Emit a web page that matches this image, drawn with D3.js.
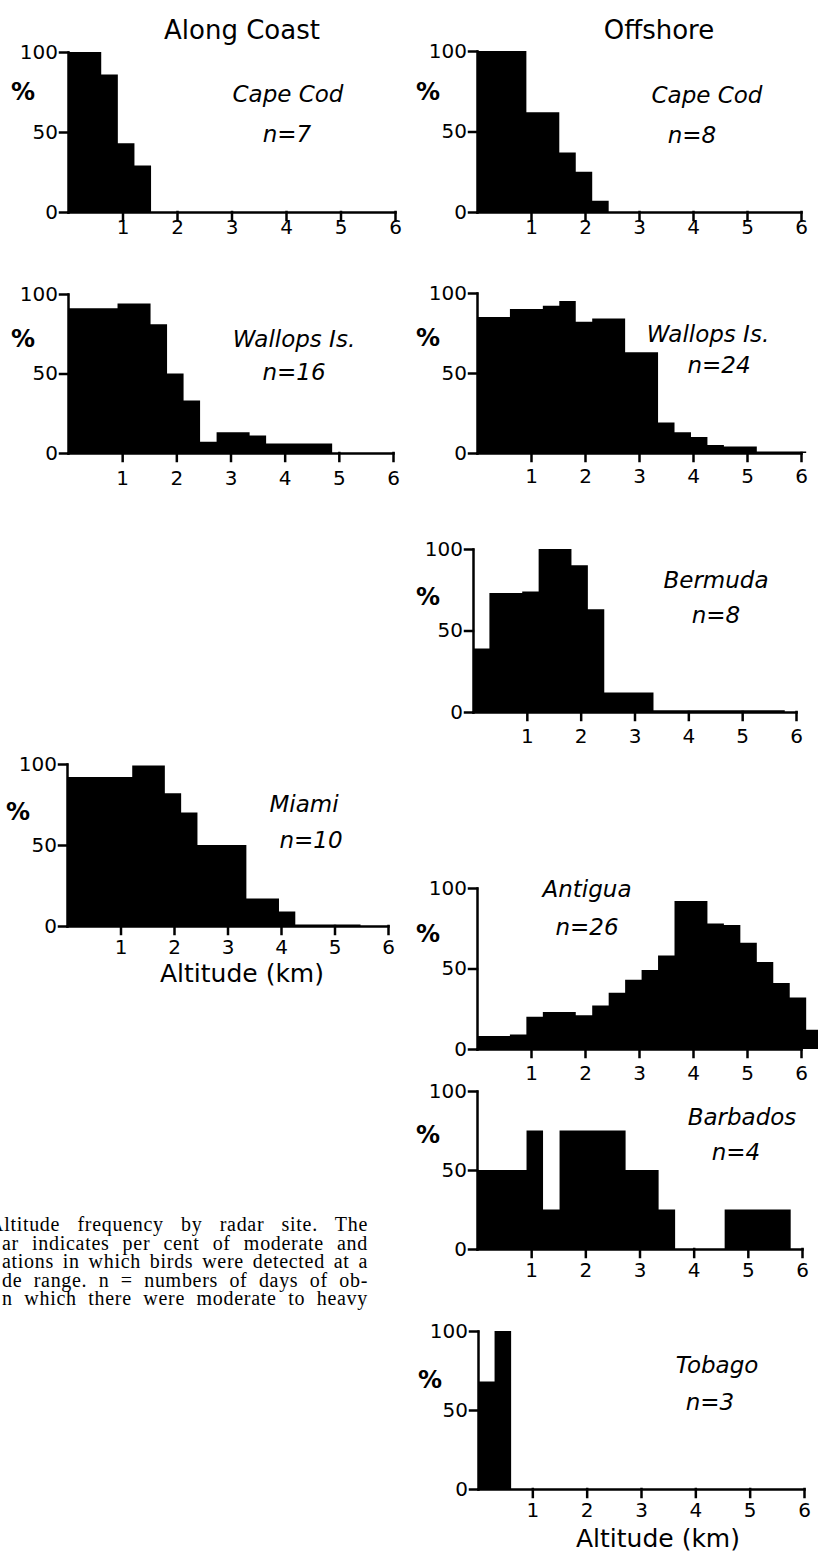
<!DOCTYPE html>
<html>
<head>
<meta charset="utf-8">
<script src="https://cdn.jsdelivr.net/npm/d3@7"></script>
<style>
  body { margin: 0; background: #fff; }
  svg { display: block; }
</style>
</head>
<body>
<div id="chart"></div>
<script>
//////////
// Data //
//////////

// altitude bins are 1000 ft wide
var BIN_KM = 0.3048;

var columnTitles = ["Along Coast", "Offshore"];
var siteNames = ["Cape Cod", "Cape Cod", "Wallops Is.", "Wallops Is.", "Bermuda", "Miami", "Antigua", "Barbados", "Tobago"];
var nDays = [7, 8, 16, 24, 8, 10, 26, 4, 3];
var xTicks = [1, 2, 3, 4, 5, 6];
var yTicks = [0, 50, 100];
var axisTitle = "Altitude (km)";

// per cent of nights per altitude bin, lowest bin first
var capeCodCoast   = [100, 100, 86, 43, 29, 0, 0, 0, 0, 0, 0, 0, 0, 0, 0, 0, 0, 0, 0, 0];
var capeCodOff     = [100, 100, 100, 62, 62, 37, 25, 7, 0, 0, 0, 0, 0, 0, 0, 0, 0, 0, 0, 0];
var wallopsCoast   = [91, 91, 91, 94, 94, 81, 50, 33, 7, 13, 13, 11, 6, 6, 6, 6, 0, 0, 0, 0];
var wallopsOff     = [85, 85, 90, 90, 92, 95, 82, 84, 84, 63, 63, 19, 13, 10, 5, 4, 4, 1, 1, 1];
var bermuda        = [39, 73, 73, 74, 100, 100, 90, 63, 12, 12, 12, 1, 1, 1, 1, 1, 1, 1, 1, 0];
var miami          = [92, 92, 92, 92, 99, 99, 82, 70, 50, 50, 50, 17, 17, 9, 1, 1, 1, 1, 0, 0];
var antigua        = [8, 8, 9, 20, 23, 23, 21, 27, 35, 43, 49, 58, 92, 92, 78, 77, 66, 54, 41, 32, 12];
var barbados       = [50, 50, 50, 75, 25, 75, 75, 75, 75, 50, 50, 25, 0, 0, 0, 25, 25, 25, 25, 0];
var tobago         = [68, 100, 0, 0, 0, 0, 0, 0, 0, 0, 0, 0, 0, 0, 0, 0, 0, 0, 0, 0];

var captionLines = [
	"Altitude frequency by radar site. The",
	"ar indicates per cent of moderate and",
	"ations in which birds were detected at a",
	"de range. n = numbers of days of ob-",
	"n which there were moderate to heavy"
];

////////////
// Layout //
////////////

var width = 818;
var height = 1553;

// where each small chart sits on the page
var panels = [
	{ values: capeCodCoast, x0: 68,  x6: 395, y100: 52,   y0: 212,  pad: 0,  lx: 288, ly: 102,  nx: 287, ny: 142,  px: 11,  py: 100 },
	{ values: capeCodOff,   x0: 477, x6: 801, y100: 51,   y0: 212,  pad: 0,  lx: 707, ly: 103,  nx: 692, ny: 143,  px: 416, py: 100 },
	{ values: wallopsCoast, x0: 68,  x6: 393, y100: 294,  y0: 453,  pad: 10, lx: 294, ly: 347,  nx: 294, ny: 380,  px: 11,  py: 347 },
	{ values: wallopsOff,   x0: 477, x6: 801, y100: 293,  y0: 453,  pad: 8,  lx: 708, ly: 342,  nx: 719, ny: 373,  px: 416, py: 346 },
	{ values: bermuda,      x0: 473, x6: 796, y100: 549,  y0: 712,  pad: 9,  lx: 716, ly: 588,  nx: 716, ny: 623,  px: 416, py: 605 },
	{ values: miami,        x0: 67,  x6: 388, y100: 764,  y0: 926,  pad: 6,  lx: 304, ly: 812,  nx: 311, ny: 848,  px: 6,   py: 820 },
	{ values: antigua,      x0: 477, x6: 801, y100: 888,  y0: 1049, pad: 9,  lx: 587, ly: 897,  nx: 587, ny: 935,  px: 416, py: 942 },
	{ values: barbados,     x0: 477, x6: 802, y100: 1091, y0: 1249, pad: 6,  lx: 742, ly: 1125, nx: 736, ny: 1160, px: 416, py: 1143 },
	{ values: tobago,       x0: 478, x6: 804, y100: 1331, y0: 1489, pad: 6,  lx: 717, ly: 1373, nx: 710, ny: 1410, px: 418, py: 1388 }
];

var FONT = "DejaVu Sans";

var svg = d3.select("#chart").append("svg")
	.attr("width", width).attr("height", height);

///////////////
// Functions //
///////////////

function drawPanel(p, i) {
	var g = svg.append("g");

	var x = d3.scaleLinear().domain([0, 6]).range([p.x0, p.x6]);
	var y = d3.scaleLinear().domain([0, 100]).range([p.y0, p.y100]);

	// histogram as a stepped area (one step per bin)
	var steps = p.values.map(function(v, k) { return { a: k * BIN_KM, v: v }; });
	steps.push({ a: p.values.length * BIN_KM, v: p.values[p.values.length - 1] });

	var area = d3.area()
		.curve(d3.curveStepAfter)
		.x(function(d) { return x(d.a); })
		.y0(y(0))
		.y1(function(d) { return y(d.v); });

	g.append("path").datum(steps)
		.attr("d", area)
		.attr("fill", "#000");

	// axes
	var yAxis = d3.axisLeft(y).tickValues(yTicks).tickFormat(d3.format("d"))
		.tickSize(8).tickSizeOuter(0).tickPadding(2);
	var xAxis = d3.axisBottom(x).tickValues(xTicks).tickFormat(d3.format("d"))
		.tickSize(8).tickSizeOuter(0).tickPadding(p.pad);

	var ya = g.append("g").attr("transform", "translate(" + p.x0 + ",0)").call(yAxis);
	var xa = g.append("g").attr("transform", "translate(0," + p.y0 + ")").call(xAxis);

	[ya, xa].forEach(function(a) {
		a.attr("font-family", FONT).attr("font-size", 20);
		a.selectAll("path, line").attr("stroke", "#000").attr("stroke-width", 2.5)
			.attr("stroke-linecap", "square");
		a.selectAll("text").attr("fill", "#000");
	});

	// % label
	g.append("text").text("%")
		.attr("x", p.px).attr("y", p.py)
		.attr("font-family", FONT).attr("font-weight", "bold").attr("font-size", 24);

	// site name and n
	g.append("text").text(siteNames[i])
		.attr("x", p.lx).attr("y", p.ly)
		.attr("text-anchor", "middle")
		.attr("font-family", FONT).attr("font-style", "italic").attr("font-size", 23);

	g.append("text").text("n=" + nDays[i])
		.attr("x", p.nx).attr("y", p.ny)
		.attr("text-anchor", "middle")
		.attr("font-family", FONT).attr("font-style", "italic").attr("font-size", 23);
}

/////////////
// Drawing //
/////////////

panels.forEach(drawPanel);

// column titles
svg.selectAll("text.title").data(columnTitles).enter().append("text")
	.attr("class", "title")
	.text(function(d) { return d; })
	.attr("x", function(d, i) { return i === 0 ? 242 : 659; })
	.attr("y", 39)
	.attr("text-anchor", "middle")
	.attr("font-family", FONT).attr("font-size", 26);

// x axis titles under the lowest chart of each column
[{ x: 242, y: 982 }, { x: 658, y: 1547 }].forEach(function(t) {
	svg.append("text").text(axisTitle)
		.attr("x", t.x).attr("y", t.y)
		.attr("text-anchor", "middle")
		.attr("font-family", FONT).attr("font-size", 25);
});

// caption, cut at the left edge as in the page; lines justified to x = 368
var captionRight = 368;
svg.selectAll("text.caption").data(captionLines).enter().append("text")
	.attr("class", "caption")
	.text(function(d) { return d; })
	.attr("x", function(d, i) { return i === 0 ? -11 : 2; })
	.attr("y", function(d, i) { return 1231 + i * 18.5; })
	.attr("font-family", "Liberation Serif").attr("font-size", 20)
	.style("letter-spacing", "0.7px")
	.each(function(d, i) {
		var x0 = i === 0 ? -11 : 2;
		var natural = this.getComputedTextLength();
		var gaps = d.split(" ").length - 1;
		var extra = Math.max(0, (captionRight - x0 - natural) / gaps);
		d3.select(this).style("word-spacing", extra + "px");
	});
</script>
</body>
</html>
